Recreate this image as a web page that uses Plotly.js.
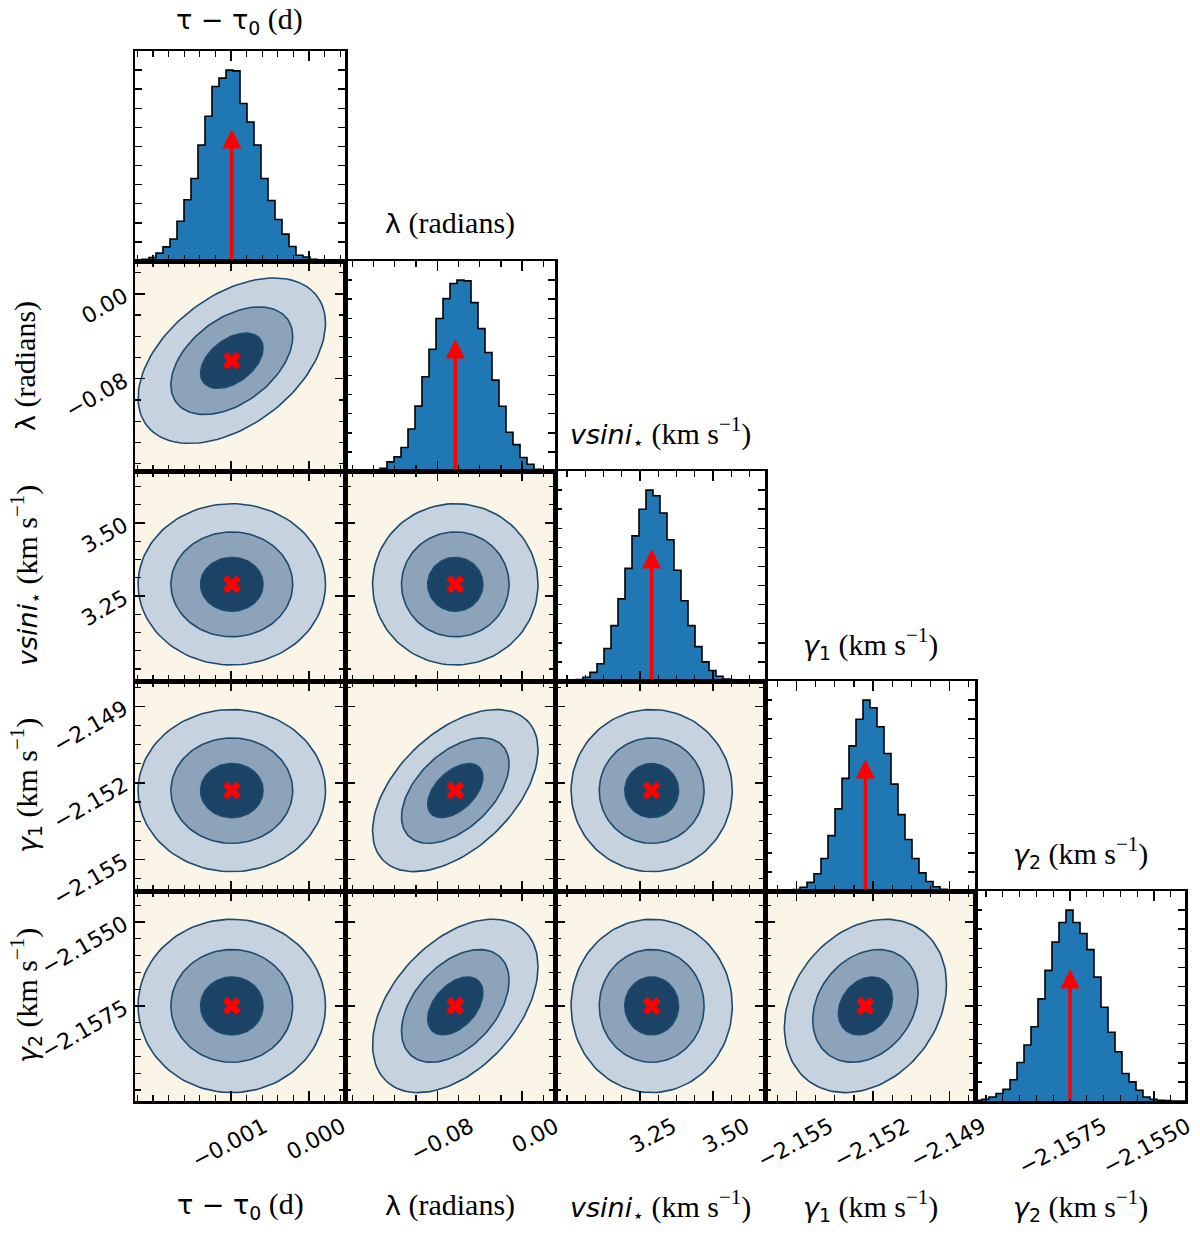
<!DOCTYPE html>
<html><head><meta charset="utf-8">
<script src="https://cdn.plot.ly/plotly-3.0.1.min.js"></script>
<style>body{margin:0;background:#fff}</style>
</head><body><div id="plot" style="width:1200px;height:1234px"></div>
<script>
// ---------- data ----------
const paramLabels = [
  '<span style="font-family:DejaVu Sans;font-size:27px">τ − τ<sub>0</sub></span> (d)',
  '<span style="font-family:DejaVu Sans;font-size:27px">λ</span> (radians)',
  '<span style="font-family:DejaVu Sans;font-size:27px"><i>vsini</i><sub>⋆</sub></span> (km s<sup>−1</sup>)',
  '<span style="font-family:DejaVu Sans;font-size:27px"><i>γ</i><sub>1</sub></span> (km s<sup>−1</sup>)',
  '<span style="font-family:DejaVu Sans;font-size:27px"><i>γ</i><sub>2</sub></span> (km s<sup>−1</sup>)'
];
const truths = [-0.00099, -0.063, 3.29, -2.1523, -2.1575];
const sigmas = [0.00040, 0.026, 0.092, 0.00106, 0.00086];
const axisRanges = [[-0.00223, 0.00046], [-0.167, 0.031], [2.959, 3.678], [-2.15624, -2.148], [-2.16033, -2.15408]];
const tickValues = [[-0.001, 0.000], [-0.08, 0.00], [3.25, 3.50], [-2.155, -2.152, -2.149], [-2.1575, -2.1550]];
const tickDecimals = [3, 2, 2, 3, 4];
const minorSteps = [0.0002, 0.02, 0.0625, 0.00075, 0.0005];
// correlation for each 2D panel [row, col, rho]
const correlations = [[1,0,0.45],[2,0,0],[2,1,0],[3,0,0],[3,1,0.5],[3,2,0],[4,0,0],[4,1,0.45],[4,2,0],[4,3,0.25]];
const contourLevels = [3.0, 1.95, 1.0];  // outer, middle, inner (in sigma)
// 1D histograms (30 bins over the axis range, relative heights)
const histTau    = [4,9,18,41,74,115,208,321,432,608,758,914,958,1000,996,825,728,608,432,317,217,141,76,30,21,9,4,0,0,0];
const histLambda = [0,0,0,1,5,14,48,74,123,220,340,494,638,799,903,982,1000,996,882,746,621,476,339,203,138,71,35,9,4,0];
const histVsini  = [0,1,3,8,20,45,90,170,290,430,590,760,900,1000,970,880,740,580,420,290,180,100,55,25,10,4,2,0,0,0];
const histGamma1 = [0,0,1,3,8,20,45,90,170,290,430,590,760,900,1000,960,860,720,560,400,270,170,95,50,22,9,3,1,0,0];
const histGamma2 = [4,9,21,39,61,111,202,293,389,535,684,833,935,1000,935,877,793,649,491,360,258,144,100,56,21,9,4,2,0,0];
const hists = [histTau, histLambda, histVsini, histGamma1, histGamma2];

// ---------- style ----------
const W = 1200, H = 1234, colL = 135, rowT = 51, PW = 210, PH = 210;
const cream = '#faf5e6';
const contourFills = ['#c6d3df', '#8ca3b9', '#1b4366'];
const contourLine = '#1d4b6f';
const histBlue = '#1f77b4';
const arrowTip = 0.69;
const titleFont = {family: 'Liberation Serif', size: 30, color: '#000'};
const tickFont = {family: 'DejaVu Sans', size: 22, color: '#000'};

function fmt(v, d) { return (v < -1e-12 ? '−' : '') + Math.abs(v).toFixed(d); }

const layout = {
  width: W, height: H, margin: {l:0, r:0, t:0, b:0},
  paper_bgcolor: '#ffffff', plot_bgcolor: '#ffffff', showlegend: false,
  font: {family: 'DejaVu Sans', size: 20, color: '#000'},
  annotations: [], shapes: []
};
const traces = [];
const N = 5;
let p = 0;
const minorBase = {ticks: 'inside', ticklen: 6, tickwidth: 1.2, tickcolor: '#000', showgrid: false};
function baseAxis() {
  return {showline: true, linewidth: 2.5, linecolor: '#000', mirror: 'allticks', ticks: 'inside',
          ticklen: 10, tickwidth: 1.5, tickcolor: '#000', showgrid: false, zeroline: false,
          tickfont: tickFont};
}
for (let i = 0; i < N; i++) {
  for (let j = 0; j <= i; j++) {
    p++;
    const sfx = p === 1 ? '' : String(p);
    const xr = 'x' + sfx, yr = 'y' + sfx;
    const x0 = (colL + PW * j) / W, x1 = (colL + PW * (j + 1)) / W;
    const yT = 1 - (rowT + PH * i) / H, yB = 1 - (rowT + PH * (i + 1)) / H;
    const xa = Object.assign(baseAxis(), {
      domain: [x0, x1], anchor: yr, range: axisRanges[j],
      tickmode: 'array', tickvals: tickValues[j], ticktext: tickValues[j].map(v => fmt(v, tickDecimals[j])),
      showticklabels: i === N - 1, tickangle: -28, ticklabelshift: 33, ticklabelstandoff: 2,
      minor: Object.assign({}, minorBase, {tick0: tickValues[j][0], dtick: minorSteps[j]})
    });
    layout['xaxis' + sfx] = xa;
    if (i === j) {
      const h = hists[j];
      const mx = Math.max(...h);
      const nb = h.length;
      const r = axisRanges[j];
      const bw = (r[1] - r[0]) / nb;
      const xs = [], ys = [];
      for (let k = 0; k <= nb; k++) { xs.push(r[0] + k * bw); ys.push(h[Math.min(k, nb - 1)] / mx); }
      traces.push({type: 'scatter', mode: 'lines', x: xs, y: ys, xaxis: xr, yaxis: yr,
        line: {shape: 'hv', color: '#000', width: 1.6}, fill: 'tozeroy', fillcolor: histBlue, hoverinfo: 'skip'});
      const yticks = []; for (let k = 1; k <= 10; k++) yticks.push(k / 10);
      layout['yaxis' + sfx] = Object.assign(baseAxis(), {
        domain: [yB, yT], anchor: xr, range: [0, 1.1], tickmode: 'array', tickvals: yticks,
        showticklabels: false, ticklen: 7
      });
      layout.annotations.push({xref: xr, yref: yr, axref: xr, ayref: yr, x: truths[j], y: arrowTip,
        ax: truths[j], ay: 0, showarrow: true, arrowhead: 2, arrowsize: 1.1, arrowwidth: 3.5,
        arrowcolor: '#ff0000', text: '', standoff: 0, startstandoff: 0});
      // top title
      const ty = Math.max(rowT + PH * i - 38, 21);
      layout.annotations.push({xref: 'paper', yref: 'paper', x: (x0 + x1) / 2, y: 1 - ty / H,
        text: paramLabels[j], showarrow: false, xanchor: 'center', yanchor: 'middle', font: titleFont});
    } else {
      layout.shapes.push({type: 'rect', xref: xr + ' domain', yref: yr + ' domain', x0: 0, x1: 1, y0: 0, y1: 1,
        fillcolor: cream, line: {width: 0}, layer: 'below'});
      const rho = correlations.find(c => c[0] === i && c[1] === j)[2];
      const cx = truths[j], cy = truths[i], sx = sigmas[j], sy = sigmas[i];
      contourLevels.forEach((k, li) => {
        const xs = [], ys = [];
        for (let s = 0; s <= 120; s++) {
          const t = 2 * Math.PI * s / 120;
          xs.push(cx + k * sx * Math.cos(t));
          ys.push(cy + k * sy * (rho * Math.cos(t) + Math.sqrt(1 - rho * rho) * Math.sin(t)));
        }
        traces.push({type: 'scatter', mode: 'lines', x: xs, y: ys, xaxis: xr, yaxis: yr, fill: 'toself',
          fillcolor: contourFills[li], line: {color: contourLine, width: 1.6}, hoverinfo: 'skip'});
      });
      traces.push({type: 'scatter', mode: 'markers', x: [cx], y: [cy], xaxis: xr, yaxis: yr,
        marker: {symbol: 'x', size: 16, color: '#ff0000', line: {width: 0}}, hoverinfo: 'skip'});
      layout['yaxis' + sfx] = Object.assign(baseAxis(), {
        domain: [yB, yT], anchor: xr, range: axisRanges[i],
        tickmode: 'array', tickvals: tickValues[i], ticktext: tickValues[i].map(v => fmt(v, tickDecimals[i])),
        showticklabels: j === 0, tickangle: -30, ticklabelstandoff: 4,
        minor: Object.assign({}, minorBase, {tick0: tickValues[i][0], dtick: minorSteps[i]})
      });
    }
  }
}
// bottom and left titles
for (let j = 0; j < N; j++) {
  layout.annotations.push({xref: 'paper', yref: 'paper', x: (colL + PW * j + PW / 2) / W, y: 1 - 1205 / H,
    text: paramLabels[j], showarrow: false, xanchor: 'center', yanchor: 'middle', font: titleFont});
}
for (let i = 1; i < N; i++) {
  layout.annotations.push({xref: 'paper', yref: 'paper', x: 25 / W, y: 1 - (rowT + PH * i + PH / 2) / H,
    text: paramLabels[i], showarrow: false, xanchor: 'center', yanchor: 'middle', textangle: -90, font: titleFont});
}
Plotly.newPlot('plot', traces, layout, {staticPlot: true});
</script></body></html>
